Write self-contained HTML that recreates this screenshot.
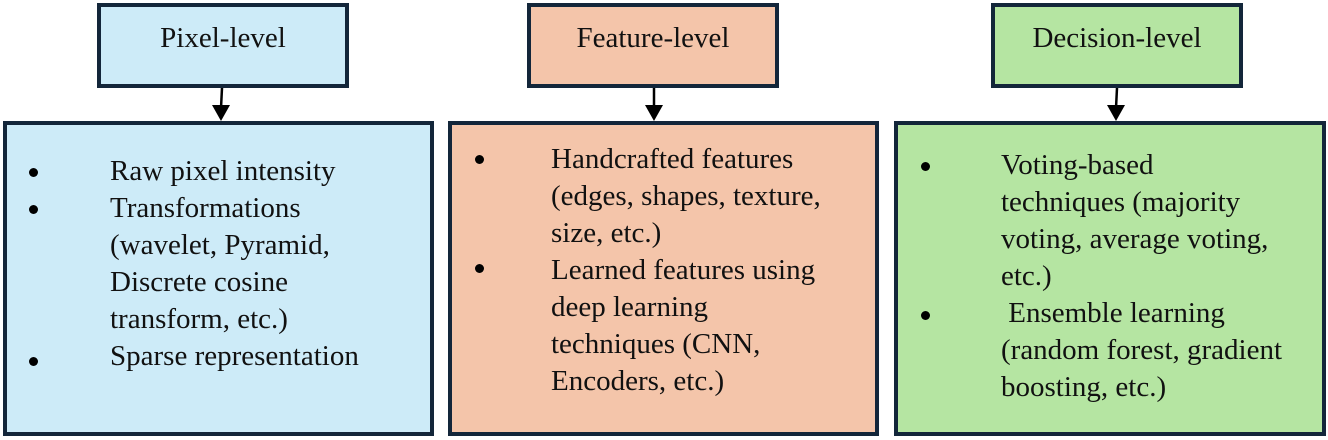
<!DOCTYPE html>
<html><head><style>
body{margin:0;width:1328px;height:440px;background:#fff;position:relative;font-family:"Liberation Serif","Times New Roman","DejaVu Serif",serif;color:#111;overflow:hidden}
.b{position:absolute;box-sizing:border-box;border:4px solid #13263a}
.h{font-size:29px;text-align:center;line-height:62px}
.t{position:absolute;font-size:29px;line-height:37px;white-space:nowrap}
.d{position:absolute;width:9px;height:9px;border-radius:50%;background:#000}
svg{position:absolute;left:0;top:0}
</style></head><body>
<div class="b h" style="left:97px;top:3px;width:252px;height:85px;background:#cdebf8">Pixel-level</div>
<div class="b h" style="left:527px;top:3px;width:252px;height:85px;background:#f4c5aa">Feature-level</div>
<div class="b h" style="left:991px;top:3px;width:252px;height:85px;background:#b5e5a2">Decision-level</div>
<div class="b" style="left:3px;top:121px;width:431px;height:315px;background:#cdebf8"></div>
<div class="b" style="left:448px;top:121px;width:431px;height:315px;background:#f4c5aa"></div>
<div class="b" style="left:894px;top:121px;width:432px;height:315px;background:#b5e5a2"></div>
<svg width="1328" height="440">
<g stroke="#000" stroke-width="2.5"><line x1="222" y1="88" x2="221" y2="108"/><line x1="654" y1="88" x2="654" y2="108"/><line x1="1117" y1="88" x2="1116" y2="108"/></g>
<g fill="#000"><polygon points="212,105 230,105 221,121"/><polygon points="645,105 663,105 654,121"/><polygon points="1107,105 1125,105 1116,121"/></g>
</svg>
<div class="d" style="left:29px;top:168px"></div><div class="d" style="left:29px;top:205px"></div><div class="d" style="left:29px;top:357px"></div>
<div class="t" style="left:110px;top:153px">Raw pixel intensity<br>Transformations<br>(wavelet, Pyramid,<br>Discrete cosine<br>transform, etc.)<br>Sparse representation</div>
<div class="d" style="left:475px;top:155px"></div><div class="d" style="left:475px;top:264px"></div>
<div class="t" style="left:551px;top:141px">Handcrafted features<br>(edges, shapes, texture,<br>size, etc.)<br>Learned features using<br>deep learning<br>techniques (CNN,<br>Encoders, etc.)</div>
<div class="d" style="left:921px;top:162px"></div><div class="d" style="left:921px;top:311px"></div>
<div class="t" style="left:1001px;top:147px">Voting-based<br>techniques (majority<br>voting, average voting,<br>etc.)<br>&nbsp;Ensemble learning<br>(random forest, gradient<br>boosting, etc.)</div>
</body></html>
